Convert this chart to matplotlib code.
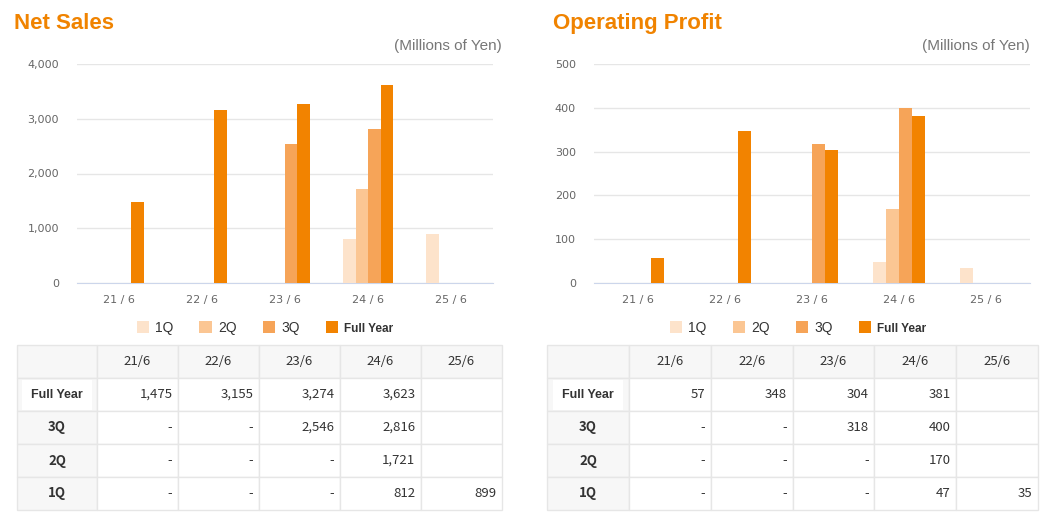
import numpy as np
import matplotlib
matplotlib.use("Agg")
import matplotlib.pyplot as plt

# data (millions of yen)
years = ["21/6", "22/6", "23/6", "24/6", "25/6"]
series = ["1Q", "2Q", "3Q", "Full Year"]
sales_1q = [np.nan, np.nan, np.nan, 812, 899]
sales_2q = [np.nan, np.nan, np.nan, 1721, np.nan]
sales_3q = [np.nan, np.nan, 2546, 2816, np.nan]
sales_fy = [1475, 3155, 3274, 3623, np.nan]
profit_1q = [np.nan, np.nan, np.nan, 47, 35]
profit_2q = [np.nan, np.nan, np.nan, 170, np.nan]
profit_3q = [np.nan, np.nan, 318, 400, np.nan]
profit_fy = [57, 348, 304, 381, np.nan]

colors = ["#FDE3CB", "#FBC693", "#F6A458", "#F28300"]
ORANGE = "#F08300"

W, H = 1060, 522
fig = plt.figure(figsize=(W / 100, H / 100), dpi=100)
plt.rcParams["font.family"] = ["Liberation Sans", "DejaVu Sans"]


def px_axes(x0, y0, x1, y1):
    return fig.add_axes([x0 / W, 1 - y1 / H, (x1 - x0) / W, (y1 - y0) / H])


def fmt_cell(v):
    if np.isnan(v):
        return "-"
    return f"{int(v):,}"


def draw_panel(title, left, right, ax_box, tbl_box, values, ymax, ystep, first_w, leg_x):
    fig.text(left / W, 1 - 24 / H, title, color=ORANGE, fontsize=16,
             fontweight="bold", va="center", ha="left")
    fig.text(right / W, 1 - 46 / H, "(Millions of Yen)", color="#777777",
             fontsize=11, va="center", ha="right")

    ax = px_axes(*ax_box)
    x = np.arange(len(years))
    bw = 0.15
    handles = []
    for i, (name, vals) in enumerate(zip(series, values)):
        b = ax.bar(x + (i - 1.5) * bw, vals, bw, color=colors[i], label=name,
                   zorder=3, linewidth=0)
        handles.append(b)
    ax.set_xlim(-0.5, len(years) - 0.5)
    ax.set_ylim(0, ymax)
    ax.set_yticks(np.arange(0, ymax + 1, ystep))
    ax.set_yticklabels([f"{int(t):,}" for t in np.arange(0, ymax + 1, ystep)])
    ax.set_xticks(x)
    ax.set_xticklabels([y.replace("/", " / ") for y in years])
    ax.grid(axis="y", color="#E6E6E6", linewidth=1, zorder=0)
    for s in ["top", "right", "left"]:
        ax.spines[s].set_visible(False)
    ax.spines["bottom"].set_color("#CCD6EB")
    ax.tick_params(axis="both", length=0, colors="#666666", labelsize=8)
    ax.tick_params(axis="y", pad=13)
    ax.tick_params(axis="x", pad=9)
    for lbl in ax.get_xticklabels() + ax.get_yticklabels():
        lbl.set_family("DejaVu Sans")

    leg = ax.legend(handles=handles, loc="center", ncol=4, frameon=False,
                    bbox_to_anchor=(leg_x, -0.205), fontsize=10, handlelength=0.9,
                    handleheight=0.9, handletextpad=0.45, columnspacing=1.85)
    for t in leg.get_texts():
        t.set_color("#333333")
    leg.get_texts()[-1].set_fontweight("bold")
    leg.get_texts()[-1].set_fontsize(8.5)

    # data table
    tax = px_axes(*tbl_box)
    tax.axis("off")
    rows = [("Full Year", values[3]), ("3Q", values[2]), ("2Q", values[1]), ("1Q", values[0])]
    cell_text = [[""] + years]
    for name, vals in rows:
        cell_text.append([name] + [fmt_cell(v) if not (j == 4 and np.isnan(v) and name != "1Q") else ""
                                   for j, v in enumerate(vals)])
    total_w = tbl_box[2] - tbl_box[0]
    rest = (total_w - first_w) / 5
    col_w = [first_w / total_w] + [rest / total_w] * 5
    tbl = tax.table(cellText=cell_text, colWidths=col_w, bbox=[0, 0, 1, 1])
    tbl.auto_set_font_size(False)
    for (r, c), cell in tbl.get_celld().items():
        cell.set_edgecolor("#E6E6E6")
        cell.set_linewidth(1)
        cell.PAD = 0.07
        txt = cell.get_text()
        txt.set_fontsize(9.5)
        txt.set_color("#333333")
        txt.set_family(["Noto Sans CJK JP", "DejaVu Sans"])
        if r == 0 or c == 0:
            cell.set_facecolor("#F7F7F7")
            cell._loc = "center"
            txt.set_horizontalalignment("center")
        else:
            cell.set_facecolor("white")
            cell._loc = "right"
            txt.set_horizontalalignment("right")
        if c == 0 and r > 0:
            txt.set_fontweight("bold")
            if r == 1:
                txt.set_family("Liberation Sans")
                txt.set_fontsize(9)
                txt.set_bbox(dict(facecolor="white", edgecolor="none", pad=6.5))
    return ax


draw_panel("Net Sales", 14, 502, (77, 64, 493, 283), (17, 345, 502, 510),
           [sales_1q, sales_2q, sales_3q, sales_fy], 4000, 1000, 80, 0.452)
draw_panel("Operating Profit", 553, 1030, (594, 64, 1030, 283), (547, 345, 1038, 510),
           [profit_1q, profit_2q, profit_3q, profit_fy], 500, 100, 82, 0.468)

fig.savefig("out.png", dpi=100)
